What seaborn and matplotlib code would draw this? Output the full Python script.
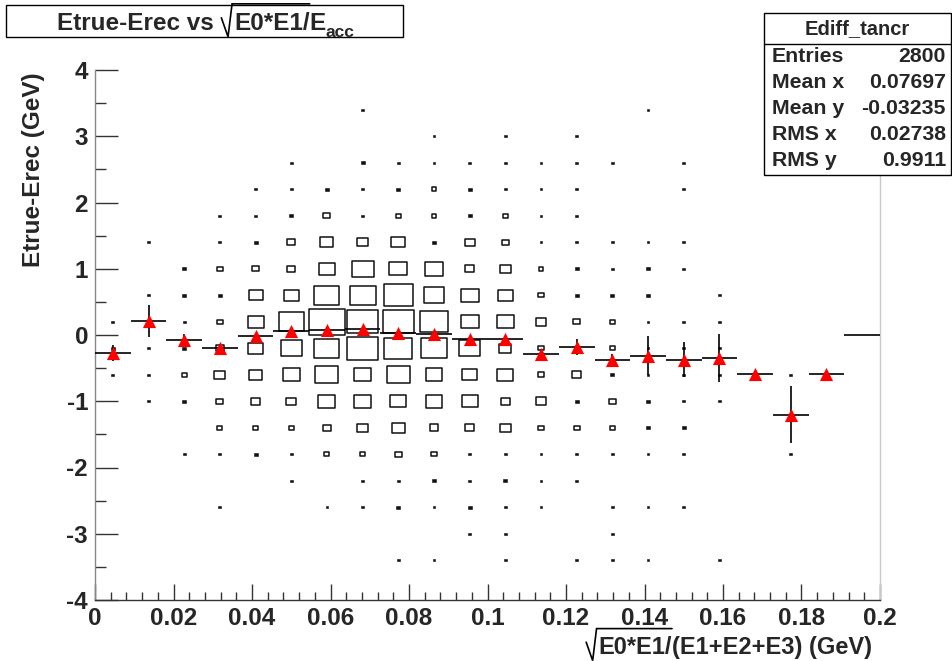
import numpy as np
import pandas as pd
import matplotlib
matplotlib.use("Agg")
import matplotlib.pyplot as plt
from matplotlib.patches import Rectangle
from matplotlib.collections import PatchCollection
from matplotlib.lines import Line2D
import seaborn as sns

# ---------------- data ----------------
x_edges_range = (0.0, 0.2)
n_xbins = 22
y_edges_range = (-4.0, 4.0)
n_ybins = 20

# 2D histogram counts, rows from top (y=3.8) to bottom (y=-3.8), 22 x-bins each
counts_rows = [
    [0,0,0,0,0,0,0,0,0,0,0,0,0,0,0,0,0,0,0,0,0,0],          # 3.8
    [0,0,0,0,0,0,0,1,0,0,0,0,0,0,0,1,0,0,0,0,0,0],          # 3.4
    [0,0,0,0,0,0,0,0,0,1,0,1,0,1,0,0,0,0,0,0,0,0],          # 3.0
    [0,0,0,0,0,1,0,2,1,1,1,1,1,1,1,0,1,0,0,0,0,0],          # 2.6
    [0,0,0,0,1,1,2,1,2,3,2,1,1,1,0,0,1,0,0,0,0,0],          # 2.2
    [0,0,0,1,1,2,6,1,3,3,2,3,1,1,0,0,0,0,0,0,0,0],          # 1.8
    [0,1,0,1,2,8,21,15,25,2,12,6,1,1,1,1,1,0,0,0,0,0],      # 1.4
    [0,0,2,4,6,8,32,61,41,45,10,15,3,2,1,2,1,0,0,0,0,0],    # 1.0
    [0,1,2,2,25,28,78,85,106,55,41,28,4,2,2,2,0,1,0,0,0,0], # 0.6
    [1,2,1,4,32,78,160,121,121,98,41,36,15,6,4,1,1,1,0,0,0,0],  # 0.2
    [2,1,2,8,28,55,78,121,98,91,55,18,4,1,3,1,1,1,0,0,0,0],     # -0.2
    [1,1,3,15,21,36,66,36,66,36,28,32,6,10,2,1,1,1,1,1,1,0],    # -0.6
    [0,1,2,6,10,12,36,36,32,36,32,10,15,2,6,2,1,1,0,0,0,0],     # -1.0
    [0,0,0,3,3,3,8,15,21,10,10,15,4,4,3,2,2,0,0,0,0,0],         # -1.4
    [0,0,1,1,2,1,3,3,6,4,1,1,1,1,1,1,1,0,0,1,0,0],              # -1.8
    [0,0,0,0,0,1,0,1,1,2,1,2,1,1,0,0,0,0,0,0,0,0],              # -2.2
    [0,0,0,1,0,0,1,1,2,1,2,1,1,0,1,1,1,0,0,0,0,0],              # -2.6
    [0,0,0,0,0,0,0,0,0,0,1,1,0,0,1,0,0,0,0,0,0,0],              # -3.0
    [0,0,0,0,0,0,0,0,1,1,0,1,0,1,1,1,0,1,0,0,0,0],              # -3.4
    [0,0,0,0,0,0,0,0,0,0,0,0,0,0,0,0,0,0,0,0,0,0],              # -3.8
]

# profile (mean of y per x-bin) and its errors
prof_mean = [-0.27, 0.21, -0.08, -0.20, -0.02, 0.065, 0.075, 0.09, 0.025, 0.02, -0.056,
             -0.065, -0.29, -0.18, -0.38, -0.31, -0.37, -0.35, -0.59, -1.20, -0.59, 0.0]
prof_err = [0.12, 0.24, 0.10, 0.06, 0.05, 0.04, 0.03, 0.03, 0.03, 0.03, 0.04,
            0.05, 0.08, 0.12, 0.10, 0.29, 0.26, 0.36, 0.0, 0.43, 0.0, 0.0]

x_tick_vals = [0, 0.02, 0.04, 0.06, 0.08, 0.1, 0.12, 0.14, 0.16, 0.18, 0.2]
x_tick_labels = ["0", "0.02", "0.04", "0.06", "0.08", "0.1", "0.12", "0.14", "0.16", "0.18", "0.2"]
y_tick_vals = [-4, -3, -2, -1, 0, 1, 2, 3, 4]
y_tick_labels = ["-4", "-3", "-2", "-1", "0", "1", "2", "3", "4"]

# title / axis title pieces: (kind, text); kind: "t" text, "root" radical, "u" under the root bar, "sub"
title_pieces = [("t", "Etrue-Erec vs "), ("root", ""), ("u", "E0*E1/"), ("t", "E"), ("sub", "acc")]
xlabel_pieces = [("root", ""), ("u", "E0*E1/"), ("t", "(E1+E2+E3) (GeV)")]
ylabel_text = "Etrue-Erec (GeV)"
stats_name = "Ediff_tancr"
stats_labels = ["Entries", "Mean x", "Mean y", "RMS x", "RMS y"]
stats_values = ["2800", "0.07697", "-0.03235", "0.02738", "0.9911"]

# ---------------- style ----------------
sns.set_style("white")
plt.rcParams["font.family"] = ["Liberation Sans", "DejaVu Sans"]
plt.rcParams["font.weight"] = "bold"

W, H = 952, 661
fig = plt.figure(figsize=(W / 100, H / 100), dpi=100)
fig.patch.set_facecolor("white")
ax = fig.add_axes([95 / W, (H - 600) / H, 785 / W, 530 / H])
ax.set_facecolor("white")

x_edges = np.linspace(*x_edges_range, n_xbins + 1)
y_edges = np.linspace(*y_edges_range, n_ybins + 1)
x_cent = 0.5 * (x_edges[:-1] + x_edges[1:])
y_cent = 0.5 * (y_edges[:-1] + y_edges[1:])
bw = x_edges[1] - x_edges[0]
bh = y_edges[1] - y_edges[0]
bw_px = 785 / n_xbins

counts = np.array(counts_rows[::-1], dtype=float)  # row 0 -> lowest y
cmax = counts.max()

cells = pd.DataFrame(
    [(x_cent[i], y_cent[j], counts[j, i]) for j in range(n_ybins) for i in range(n_xbins)],
    columns=["x", "y", "n"],
)
cells = cells[cells["n"] > 0]

hollow, solid = [], []
for _, r in cells.iterrows():
    f = np.sqrt(r["n"] / cmax)
    w, h = bw * f, bh * f
    rect = Rectangle((r["x"] - w / 2, r["y"] - h / 2), w, h)
    (solid if f * bw_px < 4.5 else hollow).append(rect)
ax.add_collection(PatchCollection(hollow, facecolor="none", edgecolor="#111111",
                                  linewidth=1.1, zorder=2))
ax.add_collection(PatchCollection(solid, facecolor="#111111", edgecolor="#111111",
                                  linewidth=0.4, zorder=2))

# profile
prof = pd.DataFrame({"x": x_cent, "mean": prof_mean, "err": prof_err,
                     "filled": counts.sum(axis=0) > 0})
ax.errorbar(prof["x"], prof["mean"], xerr=bw / 2, yerr=prof["err"], fmt="none",
            ecolor="black", elinewidth=1.2, capsize=0, zorder=3)
sns.scatterplot(data=prof[prof["filled"]], x="x", y="mean", marker="^", color="red",
                edgecolor="red", linewidth=0, s=90, ax=ax, zorder=4, legend=False)

ax.set_xlim(*x_edges_range)
ax.set_ylim(*y_edges_range)
ax.set_xticks(x_tick_vals)
ax.set_xticklabels(x_tick_labels, fontsize=17.5, fontweight="bold")
ax.set_yticks(y_tick_vals)
ax.set_yticklabels(y_tick_labels, fontsize=17.5, fontweight="bold")
ax.set_xticks(np.arange(0, 0.2001, 0.004), minor=True)
ax.set_yticks(np.arange(-4, 4.01, 0.5), minor=True)
ax.tick_params(axis="x", which="major", direction="in", length=11.5, width=1, color="#333333", pad=5, bottom=True, top=False)
ax.tick_params(axis="x", which="minor", direction="in", length=5.8, width=1, color="#333333", bottom=True, top=False)
ax.tick_params(axis="y", which="major", direction="in", length=16.5, width=1, color="#333333", pad=5, left=True, right=False)
ax.tick_params(axis="y", which="minor", direction="in", length=8, width=1, color="#333333", left=True, right=False)
ax.set_xlabel("")
ax.set_ylabel("")

ax.spines["top"].set_visible(False)
ax.spines["right"].set_color("#c8c8c8")
ax.spines["left"].set_color("#888888")
ax.spines["bottom"].set_color("#333333")
for s in ax.spines.values():
    s.set_linewidth(1)

renderer = fig.canvas.get_renderer()


def draw_pieces(pieces, x_px, y_px, fontsize, align="left"):
    """Lay out text pieces on one baseline (pixel coords, y_px from top), with a ROOT-like radical."""
    fpx = fontsize * 100 / 72
    cap = 0.716 * fpx
    objs = []
    for kind, txt in pieces:
        if kind == "root":
            objs.append((kind, None, 0.55 * fpx))
            continue
        fs = fontsize * (0.72 if kind == "sub" else 1.0)
        t = fig.text(0, 0, txt, fontsize=fs, fontweight="bold", ha="left", va="baseline")
        objs.append((kind, t, t.get_window_extent(renderer).width))
    total = sum(o[2] for o in objs)
    x0 = x_px - (total if align == "right" else total / 2 if align == "center" else 0)
    base = H - y_px
    cur = x0
    root_x = None
    for kind, t, wd in objs:
        if kind == "root":
            root_x = cur
        else:
            yy = base - (0.28 * fpx if kind == "sub" else 0)
            t.set_position((cur / W, yy / H))
            if kind == "u" and root_x is not None:
                rw = 0.55 * fpx
                top = base + cap + 0.36 * fpx
                xs = [root_x + 0.05 * rw, root_x + 0.55 * rw, root_x + 0.85 * rw, cur + wd]
                ys = [base + 0.7 * cap, base - 0.28 * fpx, top, top]
                fig.lines.append(Line2D(np.array(xs) / W, np.array(ys) / H,
                                        transform=fig.transFigure, color="black",
                                        linewidth=1.2, solid_joinstyle="miter"))
        cur += wd


# axis titles
draw_pieces(xlabel_pieces, 872, 654, 17.0, align="right")
fig.text(34 / W, 1 - 72 / H, ylabel_text, ha="center", va="top", rotation=90, fontsize=17.5,
         fontweight="bold")

# title box
fig.patches.append(Rectangle((6 / W, 1 - 37 / H), (403 - 6) / W, 32 / H, transform=fig.transFigure,
                             facecolor="white", edgecolor="black", linewidth=1))
draw_pieces(title_pieces, 206, 30, 17.5, align="center")

# stats box
bx0, bx1, by0, by1 = 764, 951, 13, 175
fig.patches.append(Rectangle((bx0 / W, 1 - by1 / H), (bx1 - bx0) / W, (by1 - by0) / H,
                             transform=fig.transFigure, facecolor="white", edgecolor="black",
                             linewidth=1, zorder=5))
fig.lines.append(Line2D([bx0 / W, bx1 / W], [1 - 44 / H, 1 - 44 / H], transform=fig.transFigure,
                        color="black", linewidth=1, zorder=6))
fig.text((bx0 + bx1) / 2 / W, 1 - 29 / H, stats_name, ha="center", va="center", fontsize=14.5,
         fontweight="bold", zorder=7)
for k, (lab, val) in enumerate(zip(stats_labels, stats_values)):
    yy = 1 - (57 + 26 * k) / H
    fig.text(772 / W, yy, lab, ha="left", va="center", fontsize=15.3, fontweight="bold", zorder=7)
    fig.text(946 / W, yy, val, ha="right", va="center", fontsize=15.3, fontweight="bold", zorder=7)

fig.savefig("out.png", dpi=100)
